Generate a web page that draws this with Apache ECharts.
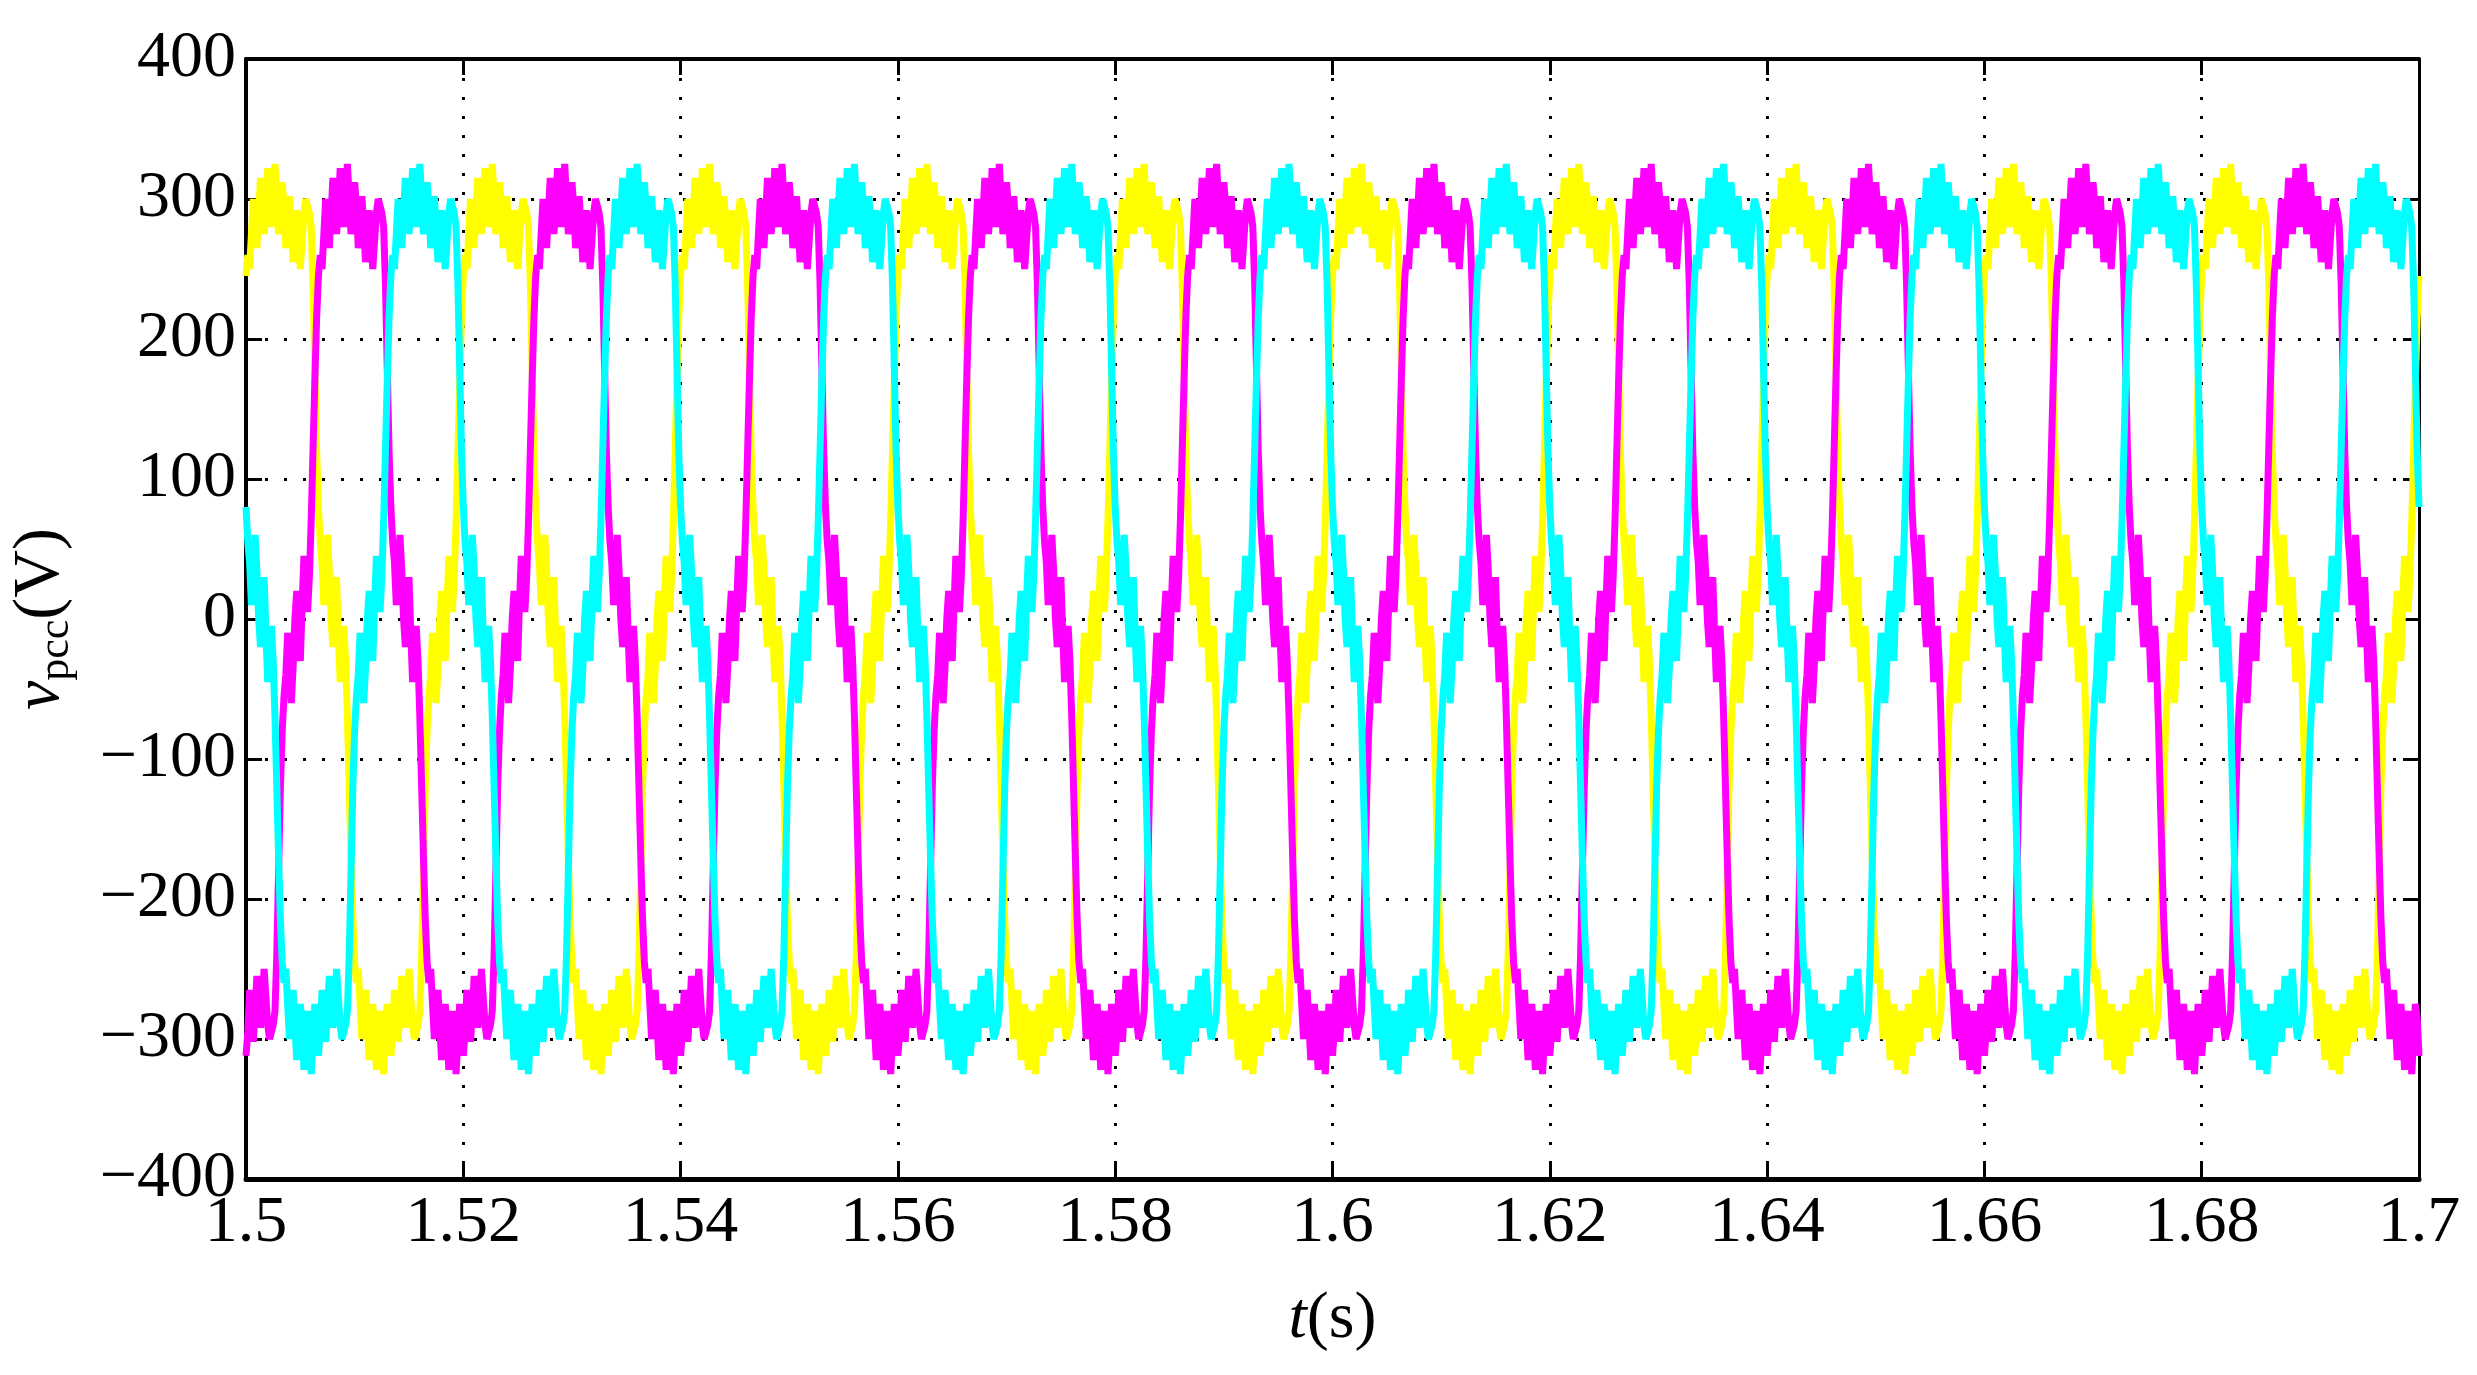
<!DOCTYPE html>
<html>
<head>
<meta charset="utf-8">
<script src="https://cdn.jsdelivr.net/npm/echarts@6/dist/echarts.min.js"></script>
<style>
  html, body { margin: 0; padding: 0; background: #fff; }
  #chart { width: 2477px; height: 1375px; }
</style>
</head>
<body>
<div id="chart"></div>
<script>
// time axis
const tStart = 1.5
const tEnd = 1.7
const samplesPerMs = 6
const xTicks = ['1.5', '1.52', '1.54', '1.56', '1.58', '1.6', '1.62', '1.64', '1.66', '1.68', '1.7']
const yTicks = [-400, -300, -200, -100, 0, 100, 200, 300, 400]

// one half cycle of v_pcc (1/6 ms per sample):
// swing up, rippled step near zero, swing up, rippled top
const halfCycle = [
  -280, -240, -180, -120, -80, -55,
  -40, -10, -30, -60, -35, 0, 20, -10, -30, 10, 45, 30, 5, 30,
  70, 120, 170, 215, 245, 260,
  250, 275, 300, 280, 265, 290, 315, 295, 275, 290, 322, 305, 280, 295, 325, 300, 275,
  285, 312, 295, 265, 275, 302, 280, 255, 265, 292, 275, 250, 270, 290, 300, 295, 290
]
// where each phase's cycle starts, in samples after t = 1.5
const offsetMagenta = 16
const offsetCyan = 56
const offsetYellow = 96

const cycle = halfCycle.concat(halfCycle.map(v => -v))
const nSamples = Math.round((tEnd - tStart) * 1000 * samplesPerMs)

function buildPhase(offset) {
  let pts = []
  for (let k = 0; k <= nSamples; k++) {
    let idx = (((k - offset) % cycle.length) + cycle.length) % cycle.length
    pts.push([tStart + k / (1000 * samplesPerMs), cycle[idx]])
  }
  return pts
}

const font = 'Liberation Serif'
const dotted = { color: '#000', width: 3, type: [3, 16] }
const fmtY = v => String(v).replace('-', '\u2212')
const fmtX = v => String(+v.toFixed(2))

const chart = echarts.init(document.getElementById('chart'))
chart.setOption({
  animation: false,
  backgroundColor: '#fff',
  grid: { left: 233, right: 58, top: 59, bottom: 196 },
  xAxis: [
    {
      type: 'value', min: tStart, max: tEnd, interval: 0.02,
      axisLine: { onZero: false, lineStyle: { color: '#000', width: 5 } },
      axisTick: { inside: true, length: 16, lineStyle: { color: '#000', width: 3 } },
      axisLabel: { formatter: fmtX, fontFamily: font, fontSize: 66, color: '#000', margin: 12 },
      splitLine: { show: true, lineStyle: dotted },
      name: '{i|t}(s)', nameLocation: 'middle', nameGap: 108,
      nameTextStyle: { fontFamily: font, fontSize: 66, color: '#000',
        rich: { i: { fontFamily: font, fontSize: 66, fontStyle: 'italic' } } }
    },
    {
      type: 'value', position: 'top', min: tStart, max: tEnd, interval: 0.02,
      axisLine: { onZero: false, lineStyle: { color: '#000', width: 4 } },
      axisTick: { inside: true, length: 16, lineStyle: { color: '#000', width: 3 } },
      axisLabel: { show: false }, splitLine: { show: false }
    }
  ],
  yAxis: [
    {
      type: 'value', min: -400, max: 400, interval: 100,
      axisLine: { show: true, onZero: false, lineStyle: { color: '#000', width: 4 } },
      axisTick: { inside: true, length: 16, lineStyle: { color: '#000', width: 3 } },
      axisLabel: { formatter: fmtY, fontFamily: font, fontSize: 66, color: '#000', margin: 10 },
      splitLine: { show: true, lineStyle: dotted },
      name: '{v|v}{s|pcc}(V)', nameLocation: 'middle', nameGap: 168, nameRotate: 90,
      nameTextStyle: { fontFamily: font, fontSize: 66, color: '#000',
        rich: {
          v: { fontFamily: font, fontSize: 66, fontStyle: 'italic' },
          s: { fontFamily: font, fontSize: 44, verticalAlign: 'bottom', padding: [30, 0, 0, 0] }
        } }
    },
    {
      type: 'value', position: 'right', min: -400, max: 400, interval: 100,
      axisLine: { show: true, onZero: false, lineStyle: { color: '#000', width: 3 } },
      axisTick: { inside: true, length: 16, lineStyle: { color: '#000', width: 3 } },
      axisLabel: { show: false }, splitLine: { show: false }
    }
  ],
  series: [
    { type: 'line', data: buildPhase(offsetYellow), showSymbol: false, lineStyle: { color: '#ffff00', width: 7 } },
    { type: 'line', data: buildPhase(offsetMagenta), showSymbol: false, lineStyle: { color: '#ff00ff', width: 7 } },
    { type: 'line', data: buildPhase(offsetCyan), showSymbol: false, lineStyle: { color: '#00ffff', width: 7 } }
  ]
})
</script>
</body>
</html>
